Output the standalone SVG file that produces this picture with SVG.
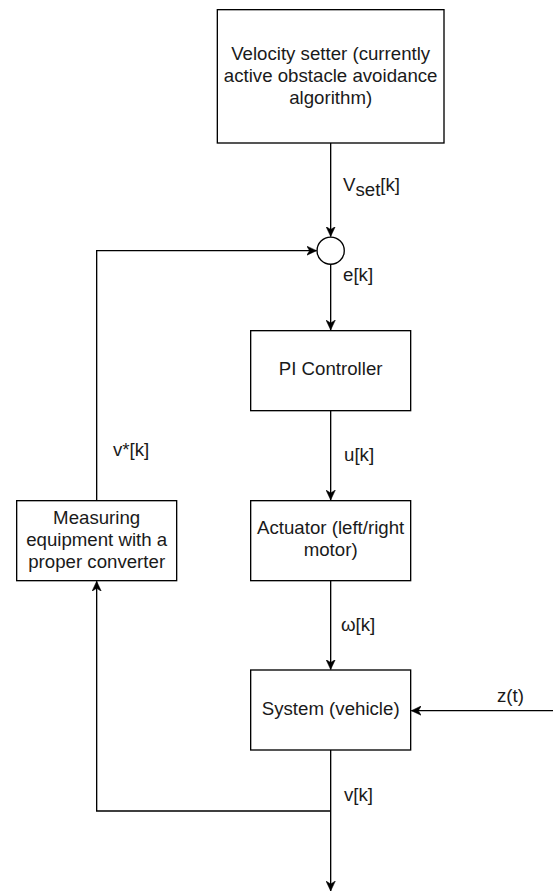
<svg xmlns="http://www.w3.org/2000/svg" width="553" height="892" viewBox="0 0 553 892">
<style>
.box{fill:#fff;stroke:#000;stroke-width:1.33}
.ln{fill:none;stroke:#000;stroke-width:1.33}
text{font-family:"Liberation Sans",Arial,Helvetica,sans-serif;font-size:18.67px;fill:#1a1a1a}
.c{text-anchor:middle}
</style>
<defs>
<marker id="arr" markerUnits="userSpaceOnUse" viewBox="0 0 10 10" refX="10" refY="5" markerWidth="10" markerHeight="10" orient="auto">
<path d="M0,0.3 L10,5 L0,9.7 L3,5 Z" fill="#000" stroke="#000" stroke-width="0.5"/>
</marker>
</defs>
<rect width="553" height="892" fill="#fff"/>
<g id="connectors">
<path class="ln" d="M330.67,143 V236.5" marker-end="url(#arr)"/>
<path class="ln" d="M330.67,264 V330" marker-end="url(#arr)"/>
<path class="ln" d="M330.67,410.67 V500" marker-end="url(#arr)"/>
<path class="ln" d="M330.67,580.67 V669.5" marker-end="url(#arr)"/>
<path class="ln" d="M553,710.67 H411.3" marker-end="url(#arr)"/>
<path class="ln" d="M330.67,750 V891" marker-end="url(#arr)"/>
<path class="ln" d="M330.67,811 H96.67 V581.3" marker-end="url(#arr)"/>
<path class="ln" d="M96.67,500.67 V250.67 H316.6" marker-end="url(#arr)"/>
<text x="343" y="191">V<tspan dy="5">set</tspan><tspan dy="-5">[k]</tspan></text>
<text x="343" y="281">e[k]</text>
<text x="344" y="461">u[k]</text>
<text x="341" y="631">ω[k]</text>
<text x="344" y="801">v[k]</text>
<text x="497" y="702">z(t)</text>
<text x="113" y="456">v*[k]</text>
</g>
<g id="velocity-setter">
<rect class="box" x="217.33" y="9.67" width="226.67" height="133.33"/>
<text class="c" x="330.67" y="60">Velocity setter (currently</text>
<text class="c" x="330.67" y="82">active obstacle avoidance</text>
<text class="c" x="330.67" y="104">algorithm)</text>
</g>
<g id="sum">
<circle cx="330.67" cy="250.67" r="13.6" fill="#fff" stroke="#000" stroke-width="1.33"/>
</g>
<g id="pi-controller">
<rect class="box" x="250.67" y="330.67" width="160" height="80"/>
<text class="c" x="330.67" y="375">PI Controller</text>
</g>
<g id="actuator">
<rect class="box" x="250.67" y="500.67" width="160" height="80"/>
<text class="c" x="330.67" y="534">Actuator (left/right</text>
<text class="c" x="330.67" y="556">motor)</text>
</g>
<g id="system">
<rect class="box" x="250.67" y="670" width="160" height="80"/>
<text class="c" x="330.67" y="715">System (vehicle)</text>
</g>
<g id="measuring">
<rect class="box" x="16.67" y="500.67" width="160" height="80"/>
<text class="c" x="96.67" y="524">Measuring</text>
<text class="c" x="96.67" y="546">equipment with a</text>
<text class="c" x="96.67" y="568">proper converter</text>
</g>
</svg>
